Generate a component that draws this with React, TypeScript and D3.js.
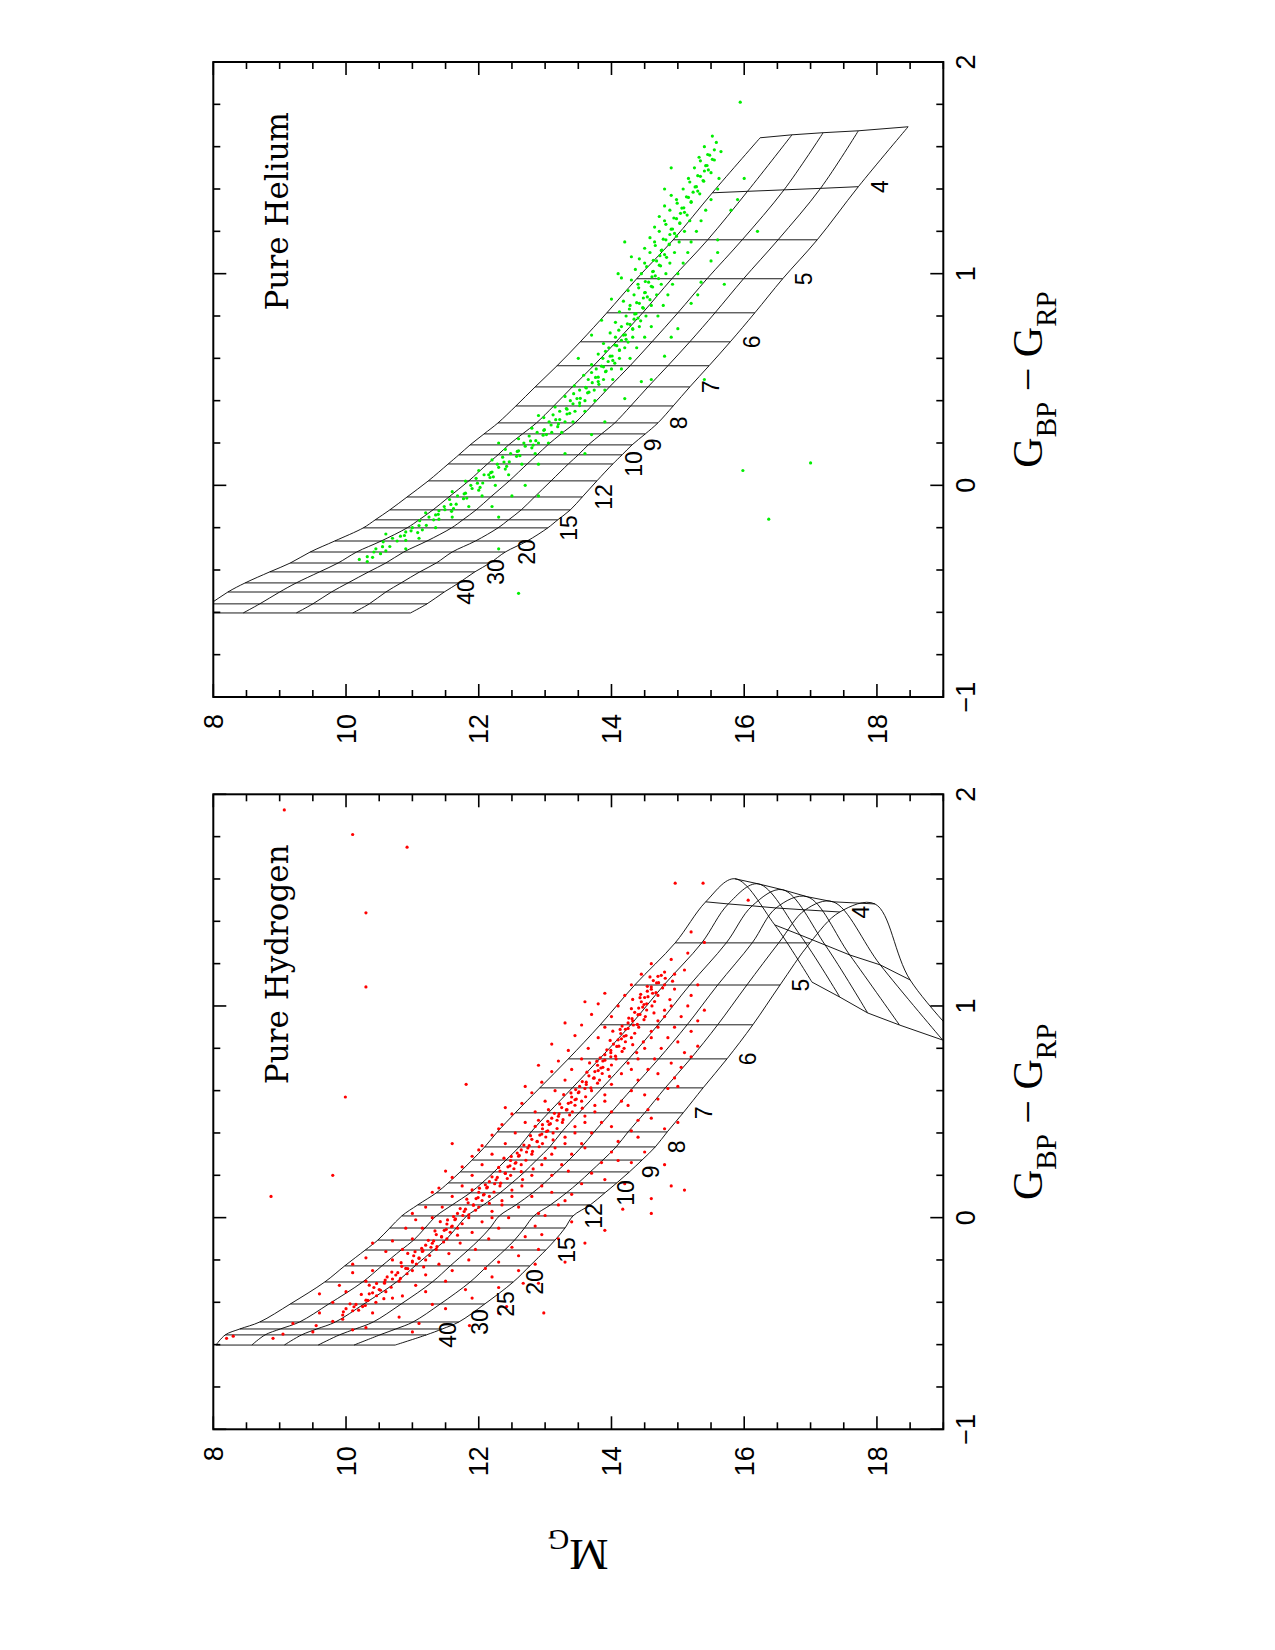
import React from 'react';
import * as d3 from 'd3';

const PAGE_W = 1275;
const PAGE_H = 1650;

// ---------------- axes ----------------
const colorMajorTicks = [-1, 0, 1, 2];
const colorTickLabels = ['\u22121', '0', '1', '2'];
const magMajorTicks = [8, 10, 12, 14, 16, 18];
const magTickLabels = ['8', '10', '12', '14', '16', '18'];

// ---------------- pure hydrogen grid (Teff in 1000 K; 6 log g tracks) ----------------
const hydrogenTeff = [50, 40, 35, 30, 25, 20, 17, 15, 14, 13, 12, 11, 10, 9.5, 9, 8.5, 8, 7.5, 7, 6.5, 6, 5.5, 5, 4.5, 4, 3.5, 3, 2.5];
const hydrogenRowColor: (number | number[])[] = [
  -0.602, -0.554, -0.526, -0.493, -0.408, -0.304, -0.228, -0.153, -0.106, -0.049, 0.008, 0.06, 0.117, 0.164,
  0.216, 0.272, 0.334, 0.405, 0.495, 0.613, 0.75, 0.911, 1.099, 1.298,
  [1.492, 1.482, 1.473, 1.463, 1.454, 1.444],
  [1.601, 1.577, 1.549, 1.516, 1.492, 1.482],
  [1.383, 1.336, 1.288, 1.241, 1.194, 1.123],
  [1.113, 1.042, 0.967, 0.91, 0.839, 0.768],
];
const hydrogenRowMag = [
  [8.04, 8.58, 9.07, 9.58, 10.12, 10.74],
  [8.18, 8.78, 9.33, 9.9, 10.51, 11.21],
  [8.4, 9.01, 9.56, 10.14, 10.75, 11.45],
  [8.7, 9.3, 9.84, 10.41, 11.01, 11.7],
  [9.16, 9.74, 10.27, 10.83, 11.42, 12.09],
  [9.68, 10.25, 10.76, 11.3, 11.87, 12.52],
  [9.98, 10.54, 11.04, 11.57, 12.13, 12.77],
  [10.29, 10.83, 11.32, 11.84, 12.39, 13.01],
  [10.48, 11.02, 11.5, 12.0, 12.54, 13.15],
  [10.66, 11.19, 11.66, 12.17, 12.69, 13.3],
  [10.84, 11.36, 11.82, 12.31, 12.83, 13.42],
  [11.08, 11.6, 12.07, 12.56, 13.08, 13.68],
  [11.36, 11.87, 12.32, 12.81, 13.32, 13.9],
  [11.54, 12.05, 12.5, 12.99, 13.5, 14.08],
  [11.72, 12.23, 12.69, 13.17, 13.68, 14.27],
  [11.9, 12.41, 12.87, 13.36, 13.87, 14.46],
  [12.09, 12.61, 13.07, 13.55, 14.07, 14.66],
  [12.28, 12.79, 13.25, 13.74, 14.25, 14.84],
  [12.55, 13.05, 13.51, 13.99, 14.5, 15.08],
  [12.92, 13.41, 13.86, 14.32, 14.81, 15.38],
  [13.35, 13.82, 14.26, 14.71, 15.19, 15.74],
  [13.83, 14.29, 14.7, 15.14, 15.6, 16.13],
  [14.35, 14.79, 15.18, 15.6, 16.04, 16.54],
  [14.96, 15.36, 15.73, 16.12, 16.52, 16.99],
  [15.42, 15.76, 16.12, 16.48, 16.92, 17.44],
  [15.86, 16.21, 16.58, 16.95, 17.34, 17.97],
  [16.46, 16.84, 17.22, 17.59, 18.05, 18.5],
  [17.02, 17.44, 17.86, 18.34, 18.99, 19.47],
];
const hydrogenLabelTeff = [40, 30, 25, 20, 15, 12, 10, 9, 8, 7, 6, 5, 4];

// ---------------- pure helium grid (5 log g tracks) ----------------
const heliumTeff = [60, 50, 40, 35, 30, 25, 20, 17, 15, 14, 13, 12, 11, 10, 9.5, 9, 8.5, 8, 7.5, 7, 6.5, 6, 5.5, 5, 4.5, 4, 3.5];
const heliumRowColor: (number | number[])[] = [
  -0.603, -0.56, -0.504, -0.461, -0.409, -0.367, -0.315, -0.263, -0.201, -0.163, -0.116, -0.055, 0.021, 0.101, 0.144, 0.191,
  0.243, 0.295, 0.375, 0.465, 0.565, 0.678, 0.815, 0.976, 1.16,
  [1.382, 1.389, 1.396, 1.403, 1.411],
  [1.642, 1.656, 1.666, 1.675, 1.694],
];
const heliumRowMag = [
  [7.7, 8.45, 9.25, 10.1, 10.97],
  [7.95, 8.7, 9.5, 10.35, 11.22],
  [8.22, 9.0, 9.78, 10.6, 11.48],
  [8.48, 9.25, 10.03, 10.83, 11.7],
  [8.85, 9.6, 10.34, 11.11, 11.94],
  [9.16, 9.88, 10.6, 11.36, 12.17],
  [9.46, 10.16, 10.87, 11.6, 12.4],
  [9.83, 10.53, 11.22, 11.95, 12.73],
  [10.26, 10.92, 11.59, 12.29, 13.04],
  [10.44, 11.1, 11.76, 12.45, 13.19],
  [10.66, 11.31, 11.96, 12.64, 13.38],
  [10.92, 11.55, 12.18, 12.84, 13.56],
  [11.24, 11.85, 12.46, 13.09, 13.78],
  [11.54, 12.13, 12.73, 13.35, 14.02],
  [11.7, 12.29, 12.88, 13.5, 14.16],
  [11.87, 12.45, 13.04, 13.65, 14.31],
  [12.08, 12.66, 13.24, 13.85, 14.51],
  [12.29, 12.87, 13.45, 14.05, 14.7],
  [12.56, 13.13, 13.7, 14.29, 14.93],
  [12.85, 13.41, 13.97, 14.55, 15.18],
  [13.18, 13.73, 14.28, 14.85, 15.47],
  [13.53, 14.07, 14.61, 15.18, 15.79],
  [13.93, 14.47, 15.0, 15.56, 16.16],
  [14.38, 14.91, 15.44, 15.99, 16.58],
  [14.93, 15.45, 15.97, 16.51, 17.1],
  [15.52, 16.05, 16.6, 17.15, 17.72],
  [16.24, 16.72, 17.19, 17.72, 18.47],
];
const heliumLabelTeff = [40, 30, 20, 15, 12, 10, 9, 8, 7, 6, 5, 4];

// ---------------- observed stars: [G_BP - G_RP, M_G] ----------------
const hydrogenStars: [number, number][] = [
  [-0.56,8.3],[-0.55,9.05],[-0.54,9.5],[-0.57,8.9],[-0.53,10.1],[-0.57,8.2],
  [-0.5,9.2],[-0.51,9.55],[-0.49,9.8],[-0.52,10.3],[-0.5,11.1],[-0.48,9.95],[-0.54,11.0],[-0.51,11.86],
  [-0.45,9.6],[-0.46,9.95],[-0.44,10.1],[-0.45,10.4],[-0.43,10.0],[-0.47,10.8],[-0.45,12.3],[-0.45,12.98],
  [-0.4,9.8],[-0.41,10.15],[-0.39,10.3],[-0.4,10.45],[-0.42,10.25],[-0.38,10.7],[-0.41,11.3],[-0.42,12.42],
  [-0.35,10.0],[-0.36,10.35],[-0.34,10.5],[-0.35,10.6],[-0.33,10.42],[-0.37,10.85],[-0.35,11.2],[-0.34,11.8],[-0.36,9.6],
  [-0.3,10.3],[-0.31,10.58],[-0.29,10.7],[-0.3,10.8],[-0.28,10.62],[-0.32,11.05],[-0.3,11.5],[-0.31,12.67],[-0.31,12.9],
  [-0.25,10.4],[-0.26,10.78],[-0.24,10.9],[-0.25,11.0],[-0.23,10.84],[-0.27,11.2],[-0.25,11.6],[-0.24,12.1],[-0.26,10.1],[-0.25,12.6],
  [-0.2,10.7],[-0.21,11.0],[-0.19,11.1],[-0.2,11.2],[-0.18,11.02],[-0.22,11.4],[-0.2,11.85],[-0.21,12.3],[-0.19,10.3],[-0.21,13.3],
  [-0.15,10.85],[-0.16,11.15],[-0.14,11.28],[-0.15,11.36],[-0.13,11.2],[-0.17,11.55],[-0.15,11.95],[-0.14,12.5],[-0.16,10.6],[-0.15,12.9],
  [-0.1,11.0],[-0.11,11.32],[-0.09,11.44],[-0.1,11.52],[-0.08,11.36],[-0.12,11.72],[-0.1,12.15],[-0.09,12.7],[-0.11,10.7],[-0.1,13.2],
  [-0.05,11.15],[-0.06,11.48],[-0.04,11.6],[-0.05,11.68],[-0.03,11.52],[-0.07,11.9],[-0.05,12.3],[-0.04,12.85],[-0.06,13.9],[-0.05,10.9],
  [0,11.3],[-0.01,11.64],[0.01,11.76],[0,11.85],[0.02,11.68],[-0.02,12.05],[0,12.45],[0.01,13.0],[-0.01,11.05],[0.02,14.6],[0,12.2],
  [0.05,11.45],[0.04,11.8],[0.06,11.92],[0.05,12.0],[0.07,11.84],[0.03,12.2],[0.05,12.6],[0.06,13.2],[0.04,14.17],[0.05,11.2],[0.06,12.35],
  [0.1,11.6],[0.09,11.96],[0.11,12.08],[0.1,12.16],[0.12,12.0],[0.08,12.35],[0.1,12.8],[0.11,13.4],[0.09,14.6],[0.13,15.1],[0.1,12.5],[0.1,8.87],
  [0.15,11.75],[0.14,12.12],[0.16,12.24],[0.15,12.32],[0.17,12.16],[0.13,12.5],[0.15,12.95],[0.16,13.55],[0.14,11.4],[0.15,12.65],[0.16,14.2],
  [0.2,11.9],[0.19,12.28],[0.21,12.4],[0.2,12.48],[0.22,12.32],[0.18,12.66],[0.2,13.1],[0.21,13.7],[0.19,11.6],[0.2,12.8],[0.2,9.8],
  [0.25,12.05],[0.24,12.44],[0.26,12.56],[0.25,12.64],[0.27,12.48],[0.23,12.82],[0.25,13.25],[0.26,13.85],[0.24,11.75],[0.25,12.95],[0.26,14.3],
  [0.3,12.2],[0.29,12.6],[0.31,12.72],[0.3,12.8],[0.32,12.64],[0.28,13.0],[0.3,13.4],[0.31,14.0],[0.29,11.9],[0.3,13.1],[0.31,14.5],
  [0.35,12.4],[0.34,12.76],[0.36,12.88],[0.35,12.96],[0.37,12.8],[0.33,13.15],[0.35,13.55],[0.36,14.1],[0.34,12.05],[0.35,13.3],[0.35,11.6],
  [0.4,12.55],[0.39,12.92],[0.41,13.04],[0.4,13.12],[0.42,12.96],[0.38,13.3],[0.4,13.7],[0.41,14.3],[0.39,12.2],[0.4,13.45],[0.42,14.8],
  [0.45,12.7],[0.44,13.06],[0.46,13.18],[0.45,13.26],[0.47,13.1],[0.43,13.45],[0.45,13.85],[0.46,14.4],[0.44,12.35],[0.45,13.6],[0.46,12.9],
  [0.5,12.85],[0.49,13.21],[0.51,13.33],[0.5,13.41],[0.52,13.25],[0.48,13.6],[0.5,14.0],[0.51,14.55],[0.49,12.5],[0.5,13.75],[0.51,13.05],
  [0.55,13.0],[0.54,13.35],[0.56,13.47],[0.55,13.55],[0.57,13.4],[0.53,13.75],[0.55,14.15],[0.56,14.7],[0.54,12.65],[0.55,13.9],
  [0.6,13.15],[0.59,13.5],[0.61,13.6],[0.6,13.7],[0.62,13.52],[0.58,13.9],[0.6,14.3],[0.61,14.85],[0.59,12.8],[0.57,9.99],
  [0.65,13.3],[0.64,13.62],[0.66,13.74],[0.65,13.82],[0.67,13.66],[0.63,14.0],[0.65,14.4],[0.66,14.95],[0.64,12.95],[0.63,11.81],
  [0.7,13.4],[0.69,13.75],[0.71,13.87],[0.7,13.95],[0.72,13.79],[0.68,14.15],[0.7,14.55],[0.71,15.05],[0.69,13.1],[0.7,14.3],
  [0.75,13.55],[0.74,13.87],[0.76,13.99],[0.75,14.07],[0.77,13.9],[0.73,14.25],[0.75,14.65],[0.76,15.2],[0.74,13.2],[0.75,14.4],
  [0.8,13.65],[0.79,13.99],[0.81,14.11],[0.8,14.19],[0.82,14.03],[0.78,14.38],[0.8,14.75],[0.81,15.3],[0.79,13.35],[0.8,14.5],
  [0.85,13.8],[0.84,14.1],[0.86,14.22],[0.85,14.3],[0.87,14.14],[0.83,14.48],[0.85,14.85],[0.86,13.45],[0.85,14.6],
  [0.9,13.9],[0.89,14.21],[0.91,14.33],[0.9,14.41],[0.92,14.25],[0.88,14.6],[0.9,14.95],[0.91,13.55],[0.9,14.7],
  [0.95,14.0],[0.94,14.31],[0.96,14.43],[0.95,14.51],[0.97,14.35],[0.93,14.7],[0.95,15.05],[0.96,13.7],[0.95,14.8],
  [1.0,14.1],[0.99,14.41],[1.01,14.53],[1.0,14.61],[1.02,14.45],[0.98,14.8],[1.0,15.15],[1.01,13.8],[1.0,14.9],
  [1.05,14.2],[1.04,14.5],[1.06,14.62],[1.05,14.7],[1.07,14.54],[1.03,14.88],[1.05,15.2],[1.06,13.9],
  [1.1,14.3],[1.09,14.6],[1.11,14.71],[1.1,14.8],[1.12,14.63],[1.08,14.95],[1.1,15.3],
  [1.15,14.45],[1.14,14.7],[1.16,14.8],[1.15,14.95],[1.17,15.1],
  [1.2,14.6],[1.22,14.9],[1.25,15.15],[1.3,15.4],[1.35,15.2],[1.58,14.96],[1.58,15.38],[1.5,16.06],
  [1.926,9.07],[1.81,10.1],[1.75,10.92],[1.44,10.3],[1.09,10.3],
  // dense core of the sequence
  [-0.445,9.96],[-0.407,10.06],[-0.421,10.12],[-0.437,10.19],[-0.415,10.29],
  [-0.363,10.23],[-0.391,10.33],[-0.355,10.4],[-0.369,10.46],[-0.383,10.57],
  [-0.319,10.35],[-0.311,10.46],[-0.343,10.52],[-0.306,10.58],[-0.329,10.68],
  [-0.295,10.59],[-0.257,10.69],[-0.271,10.75],[-0.287,10.82],[-0.265,10.92],
  [-0.213,10.83],[-0.241,10.93],[-0.205,11.0],[-0.219,11.06],[-0.233,11.17],
  [-0.169,10.93],[-0.161,11.04],[-0.193,11.1],[-0.156,11.16],[-0.179,11.26],
  [-0.145,11.14],[-0.107,11.24],[-0.121,11.3],[-0.137,11.37],[-0.115,11.47],
  [-0.063,11.34],[-0.091,11.44],[-0.055,11.51],[-0.069,11.57],[-0.083,11.68],
  [-0.019,11.42],[-0.011,11.53],[-0.043,11.59],[-0.006,11.65],[-0.029,11.75],
  [0.005,11.62],[0.043,11.72],[0.029,11.78],[0.013,11.85],[0.035,11.95],
  [0.087,11.82],[0.059,11.92],[0.095,11.99],[0.081,12.05],[0.067,12.16],
  [0.131,11.9],[0.139,12.01],[0.107,12.07],[0.144,12.13],[0.121,12.23],
  [0.155,12.1],[0.193,12.2],[0.179,12.26],[0.163,12.33],[0.185,12.43],
  [0.237,12.3],[0.209,12.4],[0.245,12.47],[0.231,12.53],[0.217,12.64],
  [0.281,12.38],[0.289,12.49],[0.257,12.55],[0.294,12.61],[0.271,12.71],
  [0.305,12.58],[0.343,12.68],[0.329,12.74],[0.313,12.81],[0.335,12.91],
  [0.387,12.78],[0.359,12.88],[0.395,12.95],[0.381,13.01],[0.367,13.12],
  [0.431,12.85],[0.439,12.96],[0.407,13.02],[0.444,13.08],[0.421,13.18],
  [0.455,13.04],[0.493,13.14],[0.479,13.2],[0.463,13.27],[0.485,13.37],
  [0.537,13.22],[0.509,13.32],[0.545,13.39],[0.531,13.45],[0.517,13.56],
  [0.581,13.28],[0.589,13.39],[0.557,13.45],[0.594,13.51],[0.571,13.61],
  [0.605,13.46],[0.643,13.56],[0.629,13.62],[0.613,13.69],[0.635,13.79],
  [0.687,13.63],[0.659,13.73],[0.695,13.8],[0.681,13.86],[0.667,13.97],
  [0.731,13.67],[0.739,13.78],[0.707,13.84],[0.744,13.9],[0.721,14.0],
  [0.755,13.83],[0.793,13.93],[0.779,13.99],[0.763,14.06],[0.785,14.16],
  [0.837,13.98],[0.809,14.08],[0.845,14.15],[0.831,14.21],[0.817,14.32],
  [0.881,14.02],[0.889,14.13],[0.857,14.19],[0.894,14.25],[0.871,14.35],
  [0.905,14.16],[0.943,14.26],[0.929,14.32],[0.913,14.39],[0.935,14.49],
  [0.987,14.3],[0.959,14.4],[0.995,14.47],[0.981,14.53],[0.967,14.64],
  [1.031,14.32],[1.039,14.43],[1.007,14.49],[1.044,14.55],[1.021,14.65],
  [1.055,14.44],[1.093,14.54],[1.079,14.6],[1.063,14.67],[1.085,14.77],
  [1.137,14.58],[1.109,14.68],[1.145,14.75],[1.131,14.81],[1.117,14.92],
  // wider scatter
  [0.02,12.9],[0.08,13.3],[0.12,13.1],[0.18,13.9],[0.22,13.35],[0.27,14.1],[0.33,13.6],[0.38,14.4],
  [0.43,14.0],[0.47,14.6],[0.53,14.25],[0.58,14.5],[0.62,15.0],[0.68,14.7],[0.73,14.9],[0.78,15.1],
  [0.83,15.0],[0.88,15.2],[0.93,15.3],[0.98,15.4],[-0.02,13.4],[-0.08,12.95],[-0.12,13.6],[-0.18,12.6],
  [-0.22,12.85],[-0.28,12.2],[-0.33,12.3],[-0.38,11.9],[-0.43,11.5],[0.15,14.9],[0.25,14.8],[0.45,15.0],
  [0.02,11.0],[0.12,11.3],[0.22,11.5],[0.32,12.0],[0.42,12.3],[0.52,12.4],[0.62,12.7],[0.72,12.9],
  [0.82,13.1],[0.92,13.3],[1.02,13.6],[-0.12,10.4],[-0.22,10.1],[-0.32,9.9],
];

const heliumStars: [number, number][] = [
  [-0.35,10.2],[-0.34,10.4],[-0.36,10.32],
  [-0.3,10.45],[-0.31,10.6],[-0.29,10.55],[-0.3,10.9],
  [-0.25,10.7],[-0.26,10.9],[-0.24,10.82],[-0.25,11.1],[-0.23,10.6],
  [-0.2,11.0],[-0.21,11.15],[-0.19,11.1],[-0.2,11.35],[-0.22,10.9],
  [-0.15,11.25],[-0.16,11.4],[-0.14,11.35],[-0.15,11.6],[-0.13,11.2],[-0.15,12.3],
  [-0.1,11.48],[-0.11,11.62],[-0.09,11.58],[-0.1,11.85],[-0.12,11.4],[-0.1,12.2],
  [-0.05,11.68],[-0.06,11.82],[-0.04,11.78],[-0.05,12.05],[-0.03,11.6],[-0.05,12.5],
  [0,11.88],[-0.01,12.02],[0.01,11.98],[0,12.25],[0.02,11.8],[0,12.7],
  [0.05,12.08],[0.04,12.22],[0.06,12.18],[0.05,12.45],[0.07,12.0],[0.05,12.15],
  [0.1,12.28],[0.09,12.42],[0.11,12.38],[0.1,12.65],[0.12,12.2],[0.1,12.9],
  [0.15,12.48],[0.14,12.62],[0.16,12.58],[0.15,12.85],[0.17,12.4],[0.15,13.3],
  [0.2,12.68],[0.19,12.82],[0.21,12.78],[0.2,13.05],[0.22,12.6],[0.2,12.9],
  [0.25,12.88],[0.24,13.02],[0.26,12.98],[0.25,13.25],[0.27,12.8],[0.25,13.1],[0.24,13.7],
  [0.3,13.06],[0.29,13.2],[0.31,13.16],[0.3,13.42],[0.32,12.98],[0.3,13.3],
  [0.35,13.22],[0.34,13.37],[0.36,13.33],[0.35,13.6],[0.37,13.15],[0.35,13.45],[0.33,12.9],
  [0.4,13.38],[0.39,13.52],[0.41,13.48],[0.4,13.75],[0.42,13.3],[0.4,13.6],[0.41,14.2],
  [0.45,13.52],[0.44,13.66],[0.46,13.62],[0.45,13.9],[0.47,13.44],[0.45,13.74],
  [0.5,13.65],[0.49,13.8],[0.51,13.76],[0.5,14.02],[0.52,13.58],[0.5,13.88],[0.49,14.45],
  [0.55,13.77],[0.54,13.92],[0.56,13.88],[0.55,14.15],[0.57,13.7],[0.55,14.0],
  [0.6,13.87],[0.59,14.02],[0.61,13.98],[0.6,14.28],[0.62,13.8],[0.6,14.12],[0.61,14.8],
  [0.65,13.96],[0.64,14.12],[0.66,14.08],[0.65,14.38],[0.67,13.88],[0.65,14.2],
  [0.7,14.06],[0.69,14.22],[0.71,14.18],[0.7,14.5],[0.72,13.98],[0.7,14.32],[0.71,13.7],
  [0.75,14.15],[0.74,14.32],[0.76,14.28],[0.75,14.6],[0.77,14.06],[0.75,14.42],[0.74,15.0],
  [0.8,14.22],[0.79,14.4],[0.81,14.35],[0.8,14.7],[0.82,14.12],[0.8,14.52],[0.78,13.85],
  [0.85,14.28],[0.84,14.47],[0.86,14.42],[0.85,14.78],[0.87,14.18],[0.85,14.6],[0.86,15.2],
  [0.9,14.34],[0.89,14.54],[0.91,14.5],[0.9,14.85],[0.92,14.25],[0.9,14.68],[0.88,14.0],
  [0.95,14.4],[0.94,14.6],[0.96,14.56],[0.95,14.92],[0.97,14.3],[0.95,14.75],[0.96,15.35],
  [1.0,14.45],[0.99,14.66],[1.01,14.62],[1.0,15.0],[1.02,14.36],[1.0,14.82],[0.98,14.15],
  [1.05,14.5],[1.04,14.72],[1.06,14.68],[1.05,15.08],[1.07,14.42],[1.05,14.88],[1.06,15.5],
  [1.1,14.58],[1.09,14.8],[1.11,14.75],[1.1,15.15],[1.12,14.5],[1.1,14.95],[1.08,14.3],
  [1.15,14.65],[1.14,14.87],[1.16,14.82],[1.15,15.2],[1.17,14.58],[1.15,15.02],[1.16,15.6],
  [1.2,14.72],[1.19,14.95],[1.21,14.9],[1.2,15.28],[1.22,14.65],[1.2,15.1],
  [1.25,14.8],[1.24,15.03],[1.26,14.98],[1.25,15.35],[1.27,14.72],[1.25,15.18],
  [1.3,14.88],[1.29,15.1],[1.31,15.06],[1.3,15.42],[1.32,14.8],
  [1.35,14.98],[1.34,15.2],[1.36,15.16],[1.35,15.5],[1.37,14.9],
  [1.4,15.08],[1.39,15.3],[1.41,15.26],[1.4,15.6],
  [1.45,15.16],[1.44,15.38],[1.46,15.34],[1.45,15.62],
  [1.5,15.25],[1.49,15.46],[1.51,15.42],
  [1.55,15.32],[1.54,15.52],[1.56,15.48],
  [1.6,15.4],[1.62,15.58],[1.65,15.52],
  [1.81,15.94],[0.106,17.0],[0.07,15.98],[-0.16,16.37],[-0.51,12.6],[1.2,16.2],[1.35,15.9],[0.5,15.4],[-0.3,12.3],
  // dense core of the sequence
  [-0.337,10.32],[-0.315,10.42],[-0.323,10.52],[-0.267,10.56],[-0.289,10.66],[-0.263,10.77],
  [-0.237,10.88],[-0.215,10.98],[-0.223,11.08],[-0.167,11.11],[-0.189,11.21],[-0.163,11.32],
  [-0.137,11.39],[-0.115,11.49],[-0.123,11.59],[-0.067,11.56],[-0.089,11.66],[-0.063,11.77],
  [-0.037,11.8],[-0.015,11.9],[-0.023,12.0],[0.033,11.96],[0.011,12.06],[0.037,12.17],
  [0.063,12.2],[0.085,12.3],[0.077,12.4],[0.133,12.36],[0.111,12.46],[0.137,12.57],
  [0.163,12.6],[0.185,12.7],[0.177,12.8],[0.233,12.76],[0.211,12.86],[0.237,12.97],
  [0.263,12.99],[0.285,13.09],[0.277,13.19],[0.333,13.12],[0.311,13.22],[0.337,13.33],
  [0.363,13.32],[0.385,13.42],[0.377,13.52],[0.433,13.43],[0.411,13.53],[0.437,13.64],
  [0.463,13.61],[0.485,13.71],[0.477,13.81],[0.533,13.7],[0.511,13.8],[0.537,13.91],
  [0.563,13.85],[0.585,13.95],[0.577,14.05],[0.633,13.91],[0.611,14.01],[0.637,14.12],
  [0.663,14.05],[0.685,14.15],[0.677,14.25],[0.733,14.11],[0.711,14.21],[0.737,14.32],
  [0.763,14.24],[0.785,14.34],[0.777,14.44],[0.833,14.27],[0.811,14.37],[0.837,14.48],
  [0.863,14.38],[0.885,14.48],[0.877,14.58],[0.933,14.41],[0.911,14.51],[0.937,14.62],
  [0.963,14.51],[0.985,14.61],[0.977,14.71],[1.033,14.53],[1.011,14.63],[1.037,14.74],
  [1.063,14.63],[1.085,14.73],[1.077,14.83],[1.133,14.66],[1.111,14.76],[1.137,14.87],
  [1.163,14.78],[1.185,14.88],[1.177,14.98],[1.233,14.82],[1.211,14.92],[1.237,15.03],
  [1.263,14.94],[1.285,15.04],[1.277,15.14],[1.333,14.99],[1.311,15.09],[1.337,15.2],
  [1.363,15.13],[1.385,15.23],[1.377,15.33],[1.433,15.18],[1.411,15.28],[1.437,15.39],
  [1.463,15.3],[1.485,15.4],[1.477,15.5],[1.533,15.34],[1.511,15.44],[1.537,15.55],
  [1.563,15.45],[1.585,15.55],[1.577,15.65],
  // wider scatter
  [0.3,13.9],[0.5,14.6],[0.7,14.9],[0.9,15.3],[1.1,15.6],[1.3,15.8],[0.2,12.3],[0.6,13.5],
  [1.0,14.1],[1.4,14.8],[1.5,14.9],[1.45,16.0],[-0.05,12.9],[0.15,13.6],[0.95,15.7],[1.15,14.2],
];

// ---------------- layout (landscape frame, later rotated onto the page) ----------------
const V_TOP = 213.3;
const V_BOTTOM = 943.3;
const PANEL_W = 635;
const SERIF = "'Liberation Serif', 'Times New Roman', serif";
const SERIF2 = "'DejaVu Serif', serif";
const SANS = "'Liberation Sans', Arial, sans-serif";

type PanelProps = {
  id: string;
  u0: number;
  title: string;
  teff: number[];
  rowColor: (number | number[])[];
  rowMag: number[][];
  labelTeff: number[];
  stars: [number, number][];
  dotColor: string;
};

function Panel(p: PanelProps) {
  const x = d3.scaleLinear().domain([-1, 2]).range([p.u0, p.u0 + PANEL_W]);
  const y = d3.scaleLinear().domain([8, 19]).range([V_TOP, V_BOTTOM]);
  const u1 = p.u0 + PANEL_W;
  const nC = p.rowMag[0].length;
  const cAt = (i: number, k: number) => {
    const r = p.rowColor[i];
    return Array.isArray(r) ? r[k] : r;
  };
  const smooth = d3
    .line<[number, number]>()
    .x((d) => x(d[0]))
    .y((d) => y(d[1]))
    .curve(d3.curveCatmullRom.alpha(0.5));
  const straight = d3
    .line<[number, number]>()
    .x((d) => x(d[0]))
    .y((d) => y(d[1]));
  const tracks = d3.range(nC).map((k) => p.teff.map((_, i) => [cAt(i, k), p.rowMag[i][k]] as [number, number]));
  const rows = p.teff.map((_, i) => d3.range(nC).map((k) => [cAt(i, k), p.rowMag[i][k]] as [number, number]));
  const colorTicks = d3.range(-1, 2.0001, 0.2);
  const magTicks = d3.range(8, 19.0001, 0.5);
  const isInt = (v: number) => Math.abs(v - Math.round(v)) < 1e-6;

  return (
    <g>
      <defs>
        <clipPath id={p.id}>
          <rect x={p.u0} y={V_TOP} width={PANEL_W} height={V_BOTTOM - V_TOP} />
        </clipPath>
      </defs>
      <g clipPath={`url(#${p.id})`}>
        {tracks.map((t, k) => (
          <path key={'t' + k} d={smooth(t) || ''} fill="none" stroke="#000" strokeWidth={0.9} />
        ))}
        {rows.map((r, i) => (
          <path key={'r' + i} d={straight(r) || ''} fill="none" stroke="#000" strokeWidth={0.9} />
        ))}
        {p.stars.map((s, i) => (
          <circle key={'s' + i} cx={x(s[0])} cy={y(s[1])} r={1.6} fill={p.dotColor} />
        ))}
      </g>
      {p.teff.map((t, i) =>
        p.labelTeff.includes(t) ? (
          <text
            key={'l' + i}
            x={x(cAt(i, nC - 1))}
            y={y(p.rowMag[i][nC - 1]) + 21}
            dy="0.36em"
            textAnchor="middle"
            fontFamily={SANS}
            fontSize={23}
          >
            {String(t)}
          </text>
        ) : null
      )}
      <rect x={p.u0} y={V_TOP} width={PANEL_W} height={V_BOTTOM - V_TOP} fill="none" stroke="#000" strokeWidth={2} />
      {colorTicks.map((c, i) => {
        const L = isInt(c) ? 13 : 7;
        return (
          <g key={'ct' + i} stroke="#000" strokeWidth={1.6}>
            <line x1={x(c)} x2={x(c)} y1={V_BOTTOM} y2={V_BOTTOM - L} />
            <line x1={x(c)} x2={x(c)} y1={V_TOP} y2={V_TOP + L} />
          </g>
        );
      })}
      {magTicks.map((m, i) => {
        const L = isInt(m) && Math.round(m) % 2 === 0 ? 13 : 7;
        return (
          <g key={'mt' + i} stroke="#000" strokeWidth={1.6}>
            <line x1={p.u0} x2={p.u0 + L} y1={y(m)} y2={y(m)} />
            <line x1={u1} x2={u1 - L} y1={y(m)} y2={y(m)} />
          </g>
        );
      })}
      {colorMajorTicks.map((c, i) => (
        <text key={'cl' + i} x={x(c)} y={V_BOTTOM + 32} textAnchor="middle" fontFamily={SANS} fontSize={27}>
          {colorTickLabels[i]}
        </text>
      ))}
      {magMajorTicks.map((m, i) => (
        <text key={'ml' + i} x={p.u0 - 17} y={y(m)} dy="0.36em" textAnchor="end" fontFamily={SANS} fontSize={27}>
          {magTickLabels[i]}
        </text>
      ))}
      <text x={x(0.5)} y={1042} textAnchor="middle" fontFamily={SERIF} fontSize={42}>
        G
        <tspan fontSize={29} dy={14}>
          BP
        </tspan>
        <tspan dy={-14}>{' \u2212 G'}</tspan>
        <tspan fontSize={29} dy={14}>
          RP
        </tspan>
      </text>
      <text x={p.u0 + 585} y={288} textAnchor="end" fontFamily={SERIF2} fontSize={31}>
        {p.title}
      </text>
    </g>
  );
}

export default function App() {
  return (
    <svg
      width={PAGE_W}
      height={PAGE_H}
      viewBox={`0 0 ${PAGE_W} ${PAGE_H}`}
      style={{ position: 'absolute', left: 0, top: 0, background: '#fff' }}
    >
      <rect x={0} y={0} width={PAGE_W} height={PAGE_H} fill="#fff" />
      <g transform={`translate(0,${PAGE_H}) rotate(-90)`}>
        <Panel
          id="clipH"
          u0={220.7}
          title="Pure Hydrogen"
          teff={hydrogenTeff}
          rowColor={hydrogenRowColor}
          rowMag={hydrogenRowMag}
          labelTeff={hydrogenLabelTeff}
          stars={hydrogenStars}
          dotColor="#ff0000"
        />
        <Panel
          id="clipHe"
          u0={953}
          title="Pure Helium"
          teff={heliumTeff}
          rowColor={heliumRowColor}
          rowMag={heliumRowMag}
          labelTeff={heliumLabelTeff}
          stars={heliumStars}
          dotColor="#00ee00"
        />
        <text transform="translate(110,578) rotate(-90)" textAnchor="middle" fontFamily={SERIF} fontSize={44}>
          M
          <tspan fontSize={30} dy={10}>
            G
          </tspan>
        </text>
      </g>
    </svg>
  );
}
